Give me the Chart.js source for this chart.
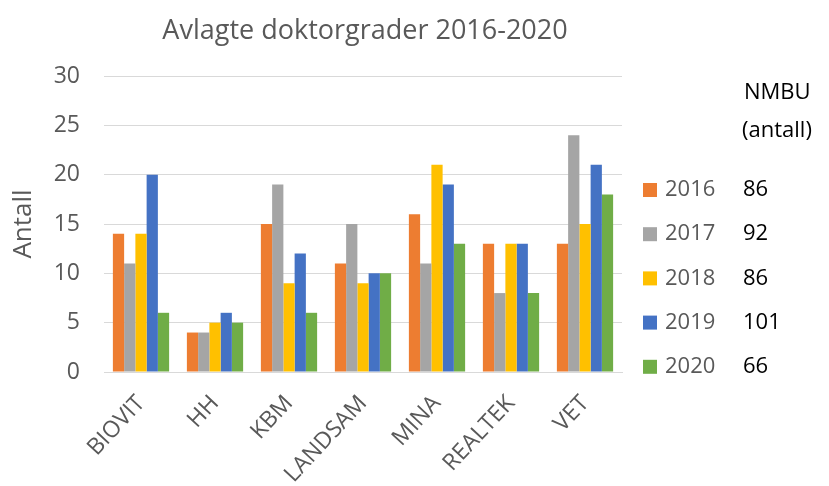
<!DOCTYPE html>
<html lang="no">

<head>
    <meta charset="UTF-8">
    <title>Avlagte doktorgrader 2016-2020</title>
    <style>
        body { margin: 0; background: #fff; }
        #wrap { width: 829px; height: 486px; }
    </style>
</head>

<body>
    <div id="wrap">
        <canvas id="myChart"></canvas>
    </div>

    <script src="https://cdn.jsdelivr.net/npm/chart.js"></script>
    <script>
        const categories = ['BIOVIT', 'HH', 'KBM', 'LANDSAM', 'MINA', 'REALTEK', 'VET'];
        const years = ['2016', '2017', '2018', '2019', '2020'];
        const v2016 = [14, 4, 15, 11, 16, 13, 13];
        const v2017 = [11, 4, 19, 15, 11, 8, 24];
        const v2018 = [14, 5, 9, 9, 21, 13, 15];
        const v2019 = [20, 6, 12, 10, 19, 13, 21];
        const v2020 = [6, 5, 6, 10, 13, 8, 18];
        const totals = [86, 92, 86, 101, 66];
        const colors = ['#ED7D31', '#A5A5A5', '#FFC000', '#4472C4', '#70AD47'];
        const yTicks = [0, 5, 10, 15, 20, 25, 30];

        const font = '"Open Sans", "Noto Sans", sans-serif';
        const grey = '#595959';

        const seriesValues = [v2016, v2017, v2018, v2019, v2020];
        const datasets = [];
        for (let i = 0; i < years.length; i++) {
            datasets.push({
                label: years[i],
                data: seriesValues[i],
                backgroundColor: colors[i],
                borderWidth: 0,
                categoryPercentage: 0.76,
                barPercentage: 1.0
            });
        }

        // title + legend with the NMBU totals column, drawn by hand
        const sideLegend = {
            id: 'sideLegend',
            afterDraw(chart) {
                const c = chart.ctx;
                c.save();
                c.textBaseline = 'middle';
                c.textAlign = 'center';
                c.fillStyle = grey;
                c.font = '27px ' + font;
                c.fillText('Avlagte doktorgrader 2016-2020', 365, 31);

                c.textAlign = 'left';
                c.font = '22px ' + font;
                c.fillStyle = '#000';
                c.fillText('NMBU', 744, 93);
                c.fillText('(antall)', 742, 131);
                for (let i = 0; i < years.length; i++) {
                    const y = 190 + i * 44.2;
                    c.fillStyle = colors[i];
                    c.fillRect(643, y - 7, 14, 14);
                    c.fillStyle = grey;
                    c.fillText(years[i], 665, y);
                    c.fillStyle = '#000';
                    c.fillText(String(totals[i]), 743, y);
                }
                c.restore();
            }
        };

        new Chart(document.getElementById('myChart'), {
            type: 'bar',
            data: {
                labels: categories,
                datasets: datasets
            },
            options: {
                responsive: true,
                maintainAspectRatio: false,
                animation: false,
                layout: {
                    padding: { top: 76, right: 207, left: 0, bottom: 0 }
                },
                plugins: {
                    legend: { display: false },
                    tooltip: { enabled: false },
                    title: { display: false }
                },
                scales: {
                    x: {
                        afterFit(axis) { axis.height = 114; },
                        grid: { display: false, drawTicks: false },
                        border: { color: '#D9D9D9', width: 1 },
                        ticks: {
                            color: grey,
                            font: { family: font, size: 23 },
                            minRotation: 47,
                            maxRotation: 47,
                            padding: 18
                        }
                    },
                    y: {
                        min: 0,
                        max: 30,
                        afterFit(axis) { axis.width = 104; },
                        afterBuildTicks(axis) {
                            axis.ticks = yTicks.map(v => ({ value: v }));
                        },
                        grid: { color: '#D9D9D9', drawTicks: false },
                        border: { display: false },
                        title: {
                            display: true,
                            text: 'Antall',
                            color: grey,
                            font: { family: font, size: 26 },
                            padding: { top: 8, bottom: 0 }
                        },
                        ticks: {
                            color: grey,
                            font: { family: font, size: 23 },
                            padding: 24
                        }
                    }
                }
            },
            plugins: [sideLegend]
        });
    </script>
</body>

</html>
